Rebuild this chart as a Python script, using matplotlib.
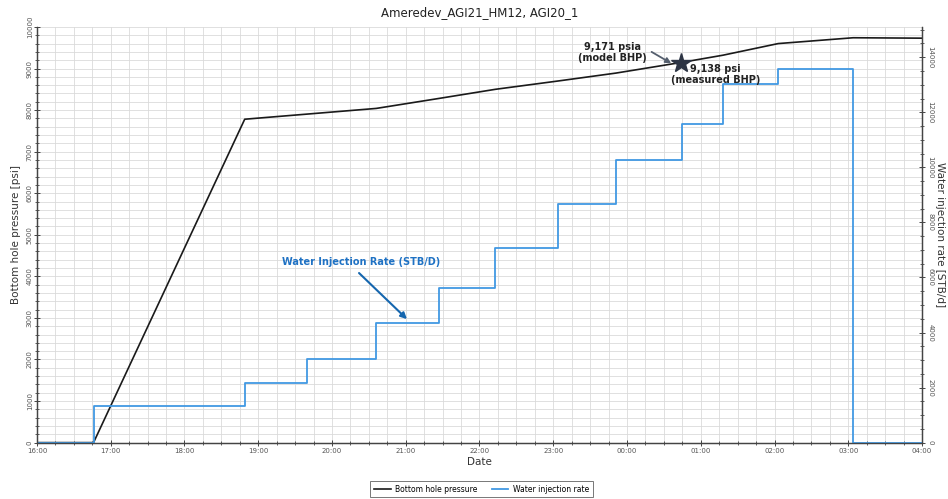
import matplotlib
matplotlib.use('Agg')
import matplotlib.pyplot as plt
import matplotlib.dates as mdates
from matplotlib.ticker import MultipleLocator
from datetime import datetime, timedelta

# pressure (left axis) and injection rate steps (right axis)
bhp_times = ['16:00', '16:46', '18:49', '20:36', '21:27', '22:13', '23:04',
             '23:51', '00:45', '01:18', '02:03', '03:04', '04:00']
bhp_psi = [0, 0, 7780, 8040, 8280, 8500, 8700, 8890, 9150, 9320, 9600, 9740, 9730]

rate_times = ['16:00', '16:46', '18:49', '19:40', '20:36', '21:27', '22:13',
              '23:04', '23:51', '00:45', '01:18', '02:03', '03:04', '04:00']
rate_stbd = [0, 1330, 2180, 3050, 4330, 5630, 7080, 8680, 10280, 11570,
             13040, 13580, 0, 0]

measured_time = '00:44'
measured_bhp = 9138


def to_dt(s):
    h, m = map(int, s.split(':'))
    d = datetime(2021, 1, 1, h, m)
    if h < 12:
        d += timedelta(days=1)
    return d


bt = [to_dt(t) for t in bhp_times]
rt = [to_dt(t) for t in rate_times]

fig = plt.figure(figsize=(9.48, 4.99), dpi=100)
ax = fig.add_axes([0.039, 0.113, 0.9336, 0.833])
ax2 = ax.twinx()

grid_c = '#dadada'
ax.set_xlim(to_dt('16:00'), to_dt('04:00'))
ax.set_ylim(0, 10000)
ax2.set_ylim(0, 15100)

ax.yaxis.set_major_locator(MultipleLocator(1000))
ax.yaxis.set_minor_locator(MultipleLocator(200))
ax2.yaxis.set_major_locator(MultipleLocator(2000))
ax2.yaxis.set_minor_locator(MultipleLocator(500))
ax.xaxis.set_major_locator(mdates.HourLocator(interval=1))
ax.xaxis.set_minor_locator(mdates.MinuteLocator(byminute=[15, 30, 45]))
ax.xaxis.set_major_formatter(mdates.DateFormatter('%H:%M'))

ax.grid(which='both', color=grid_c, linewidth=0.6)
ax.set_axisbelow(True)

for a in (ax, ax2):
    a.spines['top'].set_visible(False)
    for sp in ('left', 'right', 'bottom'):
        a.spines[sp].set_color('#444444')
        a.spines[sp].set_linewidth(0.9)
    a.tick_params(which='major', length=4, width=0.7, direction='inout',
                  colors='#444444', labelsize=5, labelcolor='#555555')
    a.tick_params(which='minor', length=2.5, width=0.6, direction='inout',
                  colors='#444444')
ax.tick_params(axis='y', labelrotation=90, pad=1)
ax2.tick_params(axis='y', labelrotation=-90, pad=2)
ax.tick_params(axis='x', pad=2)
for lbl in ax.get_yticklabels():
    lbl.set_va('center')
for lbl in ax2.get_yticklabels():
    lbl.set_va('center')

l1, = ax.plot(bt, bhp_psi, color='#1a1a1a', linewidth=1.2, label='Bottom hole pressure')
l2, = ax2.plot(rt, rate_stbd, drawstyle='steps-post', color='#4199e3',
               linewidth=1.3, label='Water injection rate')

ax2.plot(to_dt(measured_time), measured_bhp * 1.51, marker='*', markersize=15,
         color='#2c3444', zorder=5, linestyle='none')

# model BHP label and its arrow
ax2.text(to_dt('23:48'), 9390 * 1.51, '9,171 psia\n(model BHP)', ha='center',
         va='center', fontsize=7, fontweight='bold', color='#222222')
ax2.annotate('', xy=(to_dt('00:36'), 9125 * 1.51), xytext=(to_dt('00:20'), 9400 * 1.51),
             arrowprops=dict(arrowstyle='-|>', color='#555f6e', lw=1.3,
                             mutation_scale=8, shrinkA=0, shrinkB=0))
ax2.text(to_dt('01:12'), 8860 * 1.51, '9,138 psi\n(measured BHP)', ha='center',
         va='center', fontsize=7, fontweight='bold', color='#222222')

ax2.text(to_dt('20:24'), 4340 * 1.51, 'Water Injection Rate (STB/D)', ha='center',
         va='center', fontsize=7, fontweight='bold', color='#1f72c4')
ax2.annotate('', xy=(to_dt('21:01'), 2971 * 1.51), xytext=(to_dt('20:22'), 4080 * 1.51),
             arrowprops=dict(arrowstyle='-|>', color='#1566ae', lw=1.5,
                             mutation_scale=9, shrinkA=0, shrinkB=0))

ax.set_title('Ameredev_AGI21_HM12, AGI20_1', fontsize=8.5, color='#222222', pad=8)
ax.set_xlabel('Date', fontsize=7.5, color='#333333', labelpad=2)
ax.set_ylabel('Bottom hole pressure [psi]', fontsize=7.5, color='#333333', labelpad=4)
ax2.set_ylabel('Water injection rate [STB/d]', fontsize=7.5, color='#333333',
               rotation=270, va='center', ha='center')
ax2.yaxis.set_label_coords(1.0204, 0.5)

leg = fig.legend(handles=[l1, l2], loc='center', bbox_to_anchor=(0.508, 0.02),
                 ncol=2, fontsize=5.5, frameon=True, fancybox=False,
                 handlelength=2.2, columnspacing=1.8, handletextpad=0.6,
                 borderpad=0.5)
leg.get_frame().set_edgecolor('#555555')
leg.get_frame().set_linewidth(0.7)

fig.savefig('out.png', dpi=100)
